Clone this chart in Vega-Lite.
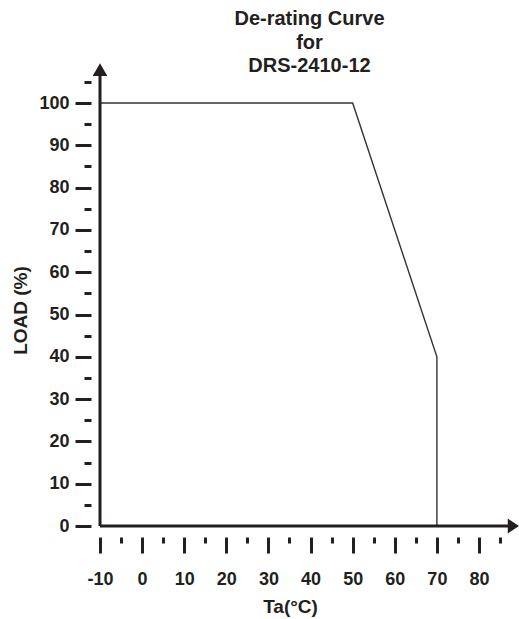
{
  "$schema": "https://vega.github.io/schema/vega-lite/v6.json",
  "width": 419,
  "height": 464,
  "autosize": {"type": "none"},
  "padding": {"left": 100, "top": 62, "right": 0, "bottom": 93},
  "background": "white",
  "title": {
    "text": ["De-rating Curve", "for", "DRS-2410-12"],
    "font": "Liberation Sans",
    "fontSize": 20,
    "fontWeight": "bold",
    "color": "#231f20",
    "lineHeight": 23.5,
    "anchor": "middle",
    "offset": -14
  },
  "config": {
    "view": {"stroke": null},
    "axis": {
      "labelFont": "Liberation Sans",
      "labelFontWeight": "bold",
      "labelFontSize": 18,
      "labelColor": "#231f20",
      "titleFont": "Liberation Sans",
      "titleFontWeight": "bold",
      "titleFontSize": 19,
      "titleColor": "#231f20",
      "tickColor": "#231f20",
      "tickWidth": 3,
      "domain": false,
      "grid": false
    }
  },
  "resolve": {"axis": {"x": "independent", "y": "independent"}},
  "datasets": {
    "curve": [
      {"ta": -10, "load": 100},
      {"ta": 50, "load": 100},
      {"ta": 70, "load": 40},
      {"ta": 70, "load": 0}
    ]
  },
  "layer": [
    {
      "data": {"name": "curve"},
      "mark": {"type": "line", "color": "#333333", "strokeWidth": 1.4},
      "encoding": {
        "x": {
          "field": "ta",
          "type": "quantitative",
          "scale": {"domain": [-10, 89.5], "nice": false, "zero": false},
          "axis": {
            "orient": "bottom",
            "title": "Ta(°C)",
            "values": [-10, 0, 10, 20, 30, 40, 50, 60, 70, 80],
            "labelExpr": "'' + datum.value",
            "tickSize": 16,
            "offset": 11,
            "labelPadding": 17,
            "labelFlush": false,
            "labelOverlap": false,
            "titleX": 190,
            "titleY": 60
          }
        },
        "y": {
          "field": "load",
          "type": "quantitative",
          "scale": {"domain": [0, 109.7], "nice": false},
          "axis": {
            "orient": "left",
            "title": "LOAD (%)",
            "values": [0, 10, 20, 30, 40, 50, 60, 70, 80, 90, 100],
            "labelExpr": "'' + datum.value",
            "tickSize": 16,
            "offset": 9,
            "labelPadding": 6,
            "labelFlush": false,
            "labelOverlap": false,
            "titleX": -61,
            "titleY": 248
          }
        }
      }
    },
    {
      "data": {"values": [{"x": -10, "y": 0, "y2": 106.5}]},
      "mark": {"type": "rule", "color": "#231f20", "strokeWidth": 3},
      "encoding": {
        "x": {"field": "x", "type": "quantitative", "axis": null},
        "y": {
          "field": "y",
          "type": "quantitative",
          "axis": {
            "orient": "left",
            "title": null,
            "values": [5, 15, 25, 35, 45, 55, 65, 75, 85, 95, 105],
            "labels": false,
            "tickSize": 7,
            "offset": 9
          }
        },
        "y2": {"field": "y2"}
      }
    },
    {
      "data": {"values": [{"x": -10, "x2": 87, "y": 0}]},
      "mark": {"type": "rule", "color": "#231f20", "strokeWidth": 3},
      "encoding": {
        "x": {
          "field": "x",
          "type": "quantitative",
          "axis": {
            "orient": "bottom",
            "title": null,
            "values": [-5, 5, 15, 25, 35, 45, 55, 65, 75, 85],
            "labels": false,
            "tickSize": 6,
            "offset": 11
          }
        },
        "x2": {"field": "x2"},
        "y": {"field": "y", "type": "quantitative", "axis": null}
      }
    },
    {
      "data": {"values": [{"x": -10, "y": 107.9}]},
      "mark": {"type": "point", "shape": "triangle-up", "filled": true, "color": "#231f20", "opacity": 1, "size": 215},
      "encoding": {
        "x": {"field": "x", "type": "quantitative", "axis": null},
        "y": {"field": "y", "type": "quantitative", "axis": null}
      }
    },
    {
      "data": {"values": [{"x": 88.17, "y": 0}]},
      "mark": {"type": "point", "shape": "M-0.75,-1L0.75,0L-0.75,1Z", "filled": true, "color": "#231f20", "opacity": 1, "size": 225},
      "encoding": {
        "x": {"field": "x", "type": "quantitative", "axis": null},
        "y": {"field": "y", "type": "quantitative", "axis": null}
      }
    }
  ]
}
